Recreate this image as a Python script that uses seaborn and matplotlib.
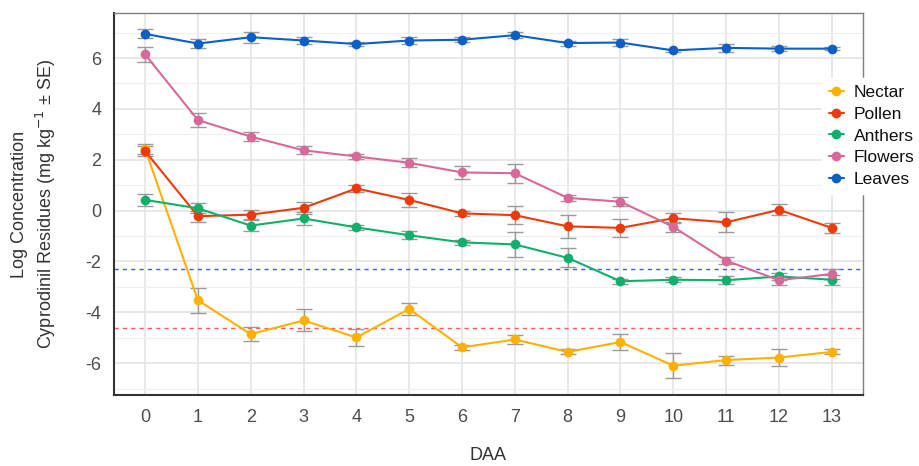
import numpy as np
import pandas as pd
import matplotlib
matplotlib.use("Agg")
import matplotlib.pyplot as plt
import seaborn as sns
from matplotlib.ticker import MultipleLocator

days = list(range(14))
nectar = [2.42, -3.53, -4.86, -4.32, -4.99, -3.87, -5.38, -5.07, -5.56, -5.17, -6.10, -5.88, -5.78, -5.56]
nectar_se = [0.20, 0.48, 0.28, 0.43, 0.33, 0.24, 0.10, 0.17, 0.10, 0.31, 0.49, 0.18, 0.35, 0.10]
pollen = [2.34, -0.22, -0.16, 0.11, 0.87, 0.42, -0.11, -0.18, -0.62, -0.68, -0.30, -0.46, 0.03, -0.68]
pollen_se = [0.20, 0.22, 0.18, 0.23, 0.13, 0.26, 0.10, 0.36, 0.45, 0.36, 0.20, 0.39, 0.22, 0.19]
anthers = [0.42, 0.09, -0.59, -0.31, -0.66, -0.97, -1.25, -1.33, -1.86, -2.78, -2.72, -2.74, -2.59, -2.72]
anthers_se = [0.22, 0.20, 0.23, 0.26, 0.10, 0.16, 0.10, 0.50, 0.37, 0.10, 0.10, 0.15, 0.15, 0.20]
flowers = [6.14, 3.56, 2.91, 2.37, 2.13, 1.88, 1.50, 1.47, 0.50, 0.35, -0.64, -1.97, -2.74, -2.49]
flowers_se = [0.28, 0.26, 0.18, 0.16, 0.10, 0.17, 0.26, 0.37, 0.12, 0.18, 0.19, 0.13, 0.18, 0.20]
leaves = [6.95, 6.57, 6.82, 6.69, 6.55, 6.69, 6.72, 6.90, 6.59, 6.61, 6.30, 6.40, 6.37, 6.37]
leaves_se = [0.18, 0.19, 0.22, 0.12, 0.08, 0.12, 0.10, 0.13, 0.10, 0.15, 0.06, 0.16, 0.10, 0.06]

tissues = ["Nectar", "Pollen", "Anthers", "Flowers", "Leaves"]
colors = ["#FFB000", "#EE3A0A", "#10B06A", "#D9689A", "#0A5FC8"]
loq_line = -2.303   # log(0.1)
lod_line = -4.605   # log(0.01)

means = dict(zip(tissues, [nectar, pollen, anthers, flowers, leaves]))
ses = dict(zip(tissues, [nectar_se, pollen_se, anthers_se, flowers_se, leaves_se]))

rows = []
for t in tissues:
    for d, m, s in zip(days, means[t], ses[t]):
        rows.append({"DAA": d, "value": m, "se": s, "Tissue": t})
df = pd.DataFrame(rows)

sns.set_theme(style="white")
plt.rcParams['font.family'] = ['Arial', 'Liberation Sans', 'DejaVu Sans']

fig = plt.figure(figsize=(9.19, 4.66), dpi=100)
ax = fig.add_axes([0.124, 0.152, 0.815, 0.820])

# grid
ax.set_axisbelow(True)
ax.yaxis.set_major_locator(MultipleLocator(2))
ax.yaxis.set_minor_locator(MultipleLocator(1))
ax.xaxis.set_major_locator(MultipleLocator(1))
ax.grid(which="major", color="#E6E6E6", linewidth=1.3)
ax.grid(which="minor", axis="y", color="#EFEFEF", linewidth=0.8)

ax.axhline(loq_line, color="#4455FF", linestyle=(0, (3, 3)), linewidth=1.0, zorder=1)
ax.axhline(lod_line, color="#FF5A5A", linestyle=(0, (3, 3)), linewidth=1.0, zorder=1)

for t, c in zip(tissues, colors):
    sub = df[df["Tissue"] == t]
    ax.errorbar(sub["DAA"], sub["value"], yerr=sub["se"], fmt="none",
                ecolor="#9A9A9A", elinewidth=1.0, capsize=6, capthick=1.0, zorder=2)

sns.lineplot(data=df, x="DAA", y="value", hue="Tissue", hue_order=tissues,
             palette=colors, marker="o", markersize=7, markeredgewidth=0,
             linewidth=1.5, ax=ax, zorder=3, legend=True)

ax.set_xlim(-0.59, 13.59)
ax.set_ylim(-7.26, 7.77)
ax.set_xticks(days)
ax.set_yticks([-6, -4, -2, 0, 2, 4, 6])
ax.set_yticklabels(["-6", "-4", "-2", "0", "2", "4", "6"])

for s in ["top", "right"]:
    ax.spines[s].set_color("#7F7F7F")
    ax.spines[s].set_linewidth(1.0)
for s in ["left", "bottom"]:
    ax.spines[s].set_color("#333333")
    ax.spines[s].set_linewidth(1.5)

ax.tick_params(axis="x", which="major", length=4, width=1.2, color="#333333",
               labelsize=13, labelcolor="#4D4D4D", pad=6)
ax.tick_params(axis="y", which="major", length=0, labelsize=13, labelcolor="#4D4D4D", pad=9)
ax.tick_params(which="minor", length=0)

ax.set_xlabel("DAA", fontsize=13, color="#333333", labelpad=15)
ax.set_ylabel("Log Concentration\nCyprodinil Residues (mg kg$^{-1}$ ± SE)",
              fontsize=13, color="#333333", labelpad=20, linespacing=1.3)

handles, labels = ax.get_legend_handles_labels()
if ax.get_legend():
    ax.get_legend().remove()
leg = fig.legend(handles, labels, loc="upper left", bbox_to_anchor=(0.894, 0.832),
                 frameon=True, fontsize=12.5, handlelength=0.9, handletextpad=0.55,
                 labelspacing=0.37, borderpad=0.4, borderaxespad=0)
leg.get_frame().set_facecolor("white")
leg.get_frame().set_edgecolor("white")
leg.get_frame().set_alpha(1.0)
for txt in leg.get_texts():
    txt.set_color("#111111")

fig.savefig("out.png", dpi=100)
